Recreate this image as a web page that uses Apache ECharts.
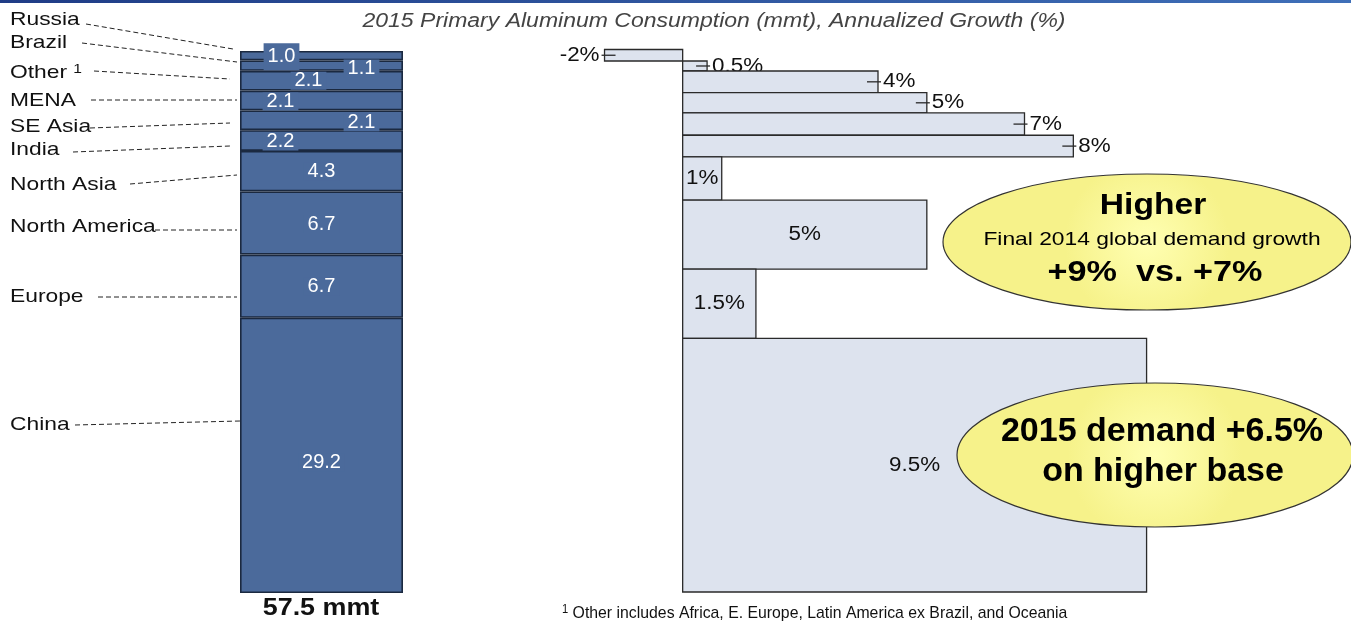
<!DOCTYPE html>
<html><head><meta charset="utf-8">
<script src="https://cdn.jsdelivr.net/npm/echarts@6/dist/echarts.min.js"></script>
<style>html,body{margin:0;padding:0;background:#fff}#c{width:1351px;height:623px}</style>
</head><body><div id="c"></div>
<script>
// ---- data (top to bottom) ----
const regions = ['Russia','Brazil','Other','MENA','SE Asia','India','North Asia','North America','Europe','China'];
const consumption = [1.0, 1.1, 2.1, 2.1, 2.1, 2.2, 4.3, 6.7, 6.7, 29.2];   // mmt, 2015
const growth = [-1.6, 0.5, 4.0, 5.0, 7.0, 8.0, 0.8, 5.0, 1.5, 9.5];        // bar lengths as drawn (%)
const growthLabels = ['-2%','0.5%','4%','5%','7%','8%','1%','5%','1.5%','9.5%'];
const growthHeights = [1.22, 1.06, 2.30, 2.15, 2.37, 2.30, 4.59, 7.32, 7.35, 26.9]; // bar thickness (mmt)
const totalLabel = '57.5 mmt';

// ---- styles ----
const FONT = 'Liberation Sans, Arial, sans-serif';
const BAR_BLUE = '#4b6a9b';
const BAR_EDGE = '#1b2940';
const labelOffsets = [[-40,1],[40,3],[-13,0],[-41,1],[40,2],[-41,1],[0,0],[0,1],[0,0],[0,7]];
const labelPads = [[8,4,1,4],[0,4],[0,4],[0,4],[0,4],[0,4],[0,4],[0,4],[0,4],[0,4]];
const ZTOP = 100;

const total = consumption.reduce((a,b)=>a+b,0);
const gTotal = growthHeights.reduce((a,b)=>a+b,0);

const leftSeries = regions.map((r,i)=>({
  name: r, type:'bar', stack:'total', xAxisIndex:0, yAxisIndex:0,
  barWidth:'100%', data:[consumption[i]],
  itemStyle:{color:BAR_BLUE, borderColor:BAR_EDGE, borderWidth:1.6},
  label:{show:true, position:'inside', color:'#fff', fontFamily:FONT, fontSize:20,
    formatter: p=>p.value.toFixed(1), offset:labelOffsets[i],
    backgroundColor:BAR_BLUE, padding:labelPads[i], lineHeight:18},
  silent:true
}));

let acc = 0;
const gData = growth.map((g,i)=>{ const s=acc; acc+=growthHeights[i]; return [s, acc, g, i]; });

const growthSeries = {
  type:'custom', xAxisIndex:1, yAxisIndex:1, data:gData, silent:true, z:2,
  renderItem(params, api){
    const y0=api.value(0), y1=api.value(1), g=api.value(2), idx=api.value(3);
    const p0=api.coord([0,y0]), p1=api.coord([g,y1]);
    const x=Math.min(p0[0],p1[0]), w=Math.abs(p1[0]-p0[0]);
    const top=p0[1], h=p1[1]-p0[1], cy=top+h/2;
    const children=[{type:'rect', shape:{x:x,y:top,width:w,height:h},
      style:{fill:'#dde3ee', stroke:'#2a2a2a', lineWidth:1.3}}];
    const txt=growthLabels[idx];
    if (h < 30) {
      const end = p1[0];
      const dir = g < 0 ? -1 : 1;
      children.push({type:'line', shape:{x1:end-dir*11, y1:cy, x2:end+dir*3, y2:cy},
        style:{stroke:'#2a2a2a', lineWidth:1.3}});
      children.push({type:'text', x:end+dir*5, y:cy, scaleX:1.12, style:{text:txt, x:0, y:0,
        align: dir>0?'left':'right', verticalAlign:'middle',
        fill:'#111', font:'20px '+FONT}});
    } else {
      children.push({type:'text', x:x+w/2, y:cy, scaleX:1.12, style:{text:txt, x:0, y:0,
        align:'center', verticalAlign:'middle', fill:'#111', font:'20px '+FONT}});
    }
    return {type:'group', children};
  }
};

// left category leaders: [labelX end, labelY, barX, barY]
const leaders = [
  [86,24,233,49],[82,43,237,62],[94,71,230,79],[91,100,237,100],[90,128,230,123],
  [73,152,230,146],[130,184,237,175],[155,230,237,230],[98,297,237,297],[75,425,240,421]
];
const nameY = [20,43,73,101,127,150,185,227,297,425];

function txt(x, y, text, font, sx, align, extra){
  return Object.assign({type:'text', x:x, y:y, scaleX:sx, z:ZTOP,
    style:Object.assign({text:text, x:0, y:0, font:font, fill:'#111', align:align||'left', verticalAlign:'middle'}, extra||{})});
}

const graphics = [
  {type:'rect', x:0, y:0, z:ZTOP, shape:{width:1351,height:3},
   style:{fill:new echarts.graphic.LinearGradient(0,0,1,0,[{offset:0,color:'#1f3c86'},{offset:1,color:'#3f6fb8'}])}},
  txt(714, 21, '2015 Primary Aluminum Consumption (mmt), Annualized Growth (%)', 'italic 20px '+FONT, 1.15, 'center', {fill:'#444'})
];
regions.forEach((r,i)=>{
  if (r==='Other') {
    graphics.push(txt(10, nameY[i], '{a|Other }{s|1}', '19px '+FONT, 1.2, 'left',
      {rich:{a:{font:'19px '+FONT, fill:'#111'}, s:{font:'13px '+FONT, fill:'#111', padding:[0,0,8,0]}}}));
  } else {
    graphics.push(txt(10, nameY[i], r, '19px '+FONT, 1.2, 'left'));
  }
  const L=leaders[i];
  graphics.push({type:'line', z:ZTOP, shape:{x1:L[0],y1:L[1],x2:L[2],y2:L[3]},
    style:{stroke:'#222', lineWidth:1, lineDash:[5,3]}});
});
graphics.push(txt(321, 608, totalLabel, 'bold 24px '+FONT, 1.12, 'center'));
graphics.push(txt(562, 613, '{s|1}{a| Other includes Africa, E. Europe, Latin America ex Brazil, and Oceania}', '17px '+FONT, 0.93, 'left',
  {rich:{a:{font:'17px '+FONT, fill:'#111'}, s:{font:'12px '+FONT, fill:'#111', padding:[0,0,7,0]}}}));

const yellow = new echarts.graphic.RadialGradient(0.5,0.5,0.6,[{offset:0,color:'#ffffb2'},{offset:1,color:'#f6f28a'}]);
graphics.push({type:'ellipse', z:ZTOP, shape:{cx:1147,cy:242,rx:204,ry:68}, style:{fill:yellow, stroke:'#333', lineWidth:1.2}});
graphics.push(txt(1153, 206, 'Higher', 'bold 30px '+FONT, 1.12, 'center', {fill:'#000'}));
graphics.push(txt(1152, 240, 'Final 2014 global demand growth', '19px '+FONT, 1.2, 'center', {fill:'#000'}));
graphics.push(txt(1155, 273, '+9%  vs. +7%', 'bold 30px '+FONT, 1.14, 'center', {fill:'#000'}));
graphics.push({type:'ellipse', z:ZTOP, shape:{cx:1155,cy:455,rx:198,ry:72}, style:{fill:yellow, stroke:'#333', lineWidth:1.2}});
graphics.push(txt(1162, 432, '2015 demand +6.5%', 'bold 33px '+FONT, 1.03, 'center', {fill:'#000'}));
graphics.push(txt(1163, 472, 'on higher base', 'bold 33px '+FONT, 1.03, 'center', {fill:'#000'}));

const chart = echarts.init(document.getElementById('c'), null, {renderer:'canvas'});
chart.setOption({
  animation:false,
  grid:[
    {left:240, top:51, width:163, height:542},
    {left:585, top:49.5, width:586, height:542.5}
  ],
  xAxis:[
    {type:'category', gridIndex:0, data:['2015'], show:false},
    {type:'value', gridIndex:1, min:-2, max:10, show:false}
  ],
  yAxis:[
    {type:'value', gridIndex:0, min:0, max:total, inverse:true, show:false},
    {type:'value', gridIndex:1, min:0, max:gTotal, inverse:true, show:false}
  ],
  series:[...leftSeries, growthSeries],
  graphic: graphics
});
</script></body></html>
